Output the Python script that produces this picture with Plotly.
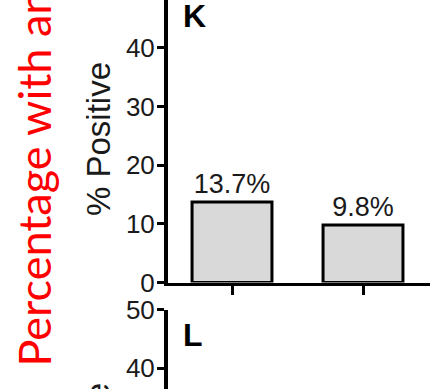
import plotly.graph_objects as go

# Panel K data
categories = [0, 1]
pct_positive = [13.7, 9.8]
bar_labels = ["13.7%", "9.8%"]

# Axis ticks
k_ticks = [0, 10, 20, 30, 40]
l_ticks = [40, 50]

W, H = 434, 389


def fx(px):
    return px / W


def fy(py):
    return 1 - py / H


AX_FONT = dict(family="Liberation Sans, Arial, sans-serif", size=26, color="#1a1a1a")

fig = go.Figure()

fig.add_trace(go.Bar(
    x=categories,
    y=pct_positive,
    width=0.61,
    text=bar_labels,
    textposition="outside",
    constraintext="none",
    cliponaxis=False,
    textfont=dict(family="Liberation Sans, Arial, sans-serif", size=27, color="#1a1a1a"),
    marker=dict(color="#d9d9d9", line=dict(color="black", width=3)),
    xaxis="x", yaxis="y",
    hoverinfo="skip",
))

# Empty trace so the lower panel's axes are drawn
fig.add_trace(go.Scatter(x=[None], y=[None], xaxis="x2", yaxis="y2", showlegend=False))

x_dom = [fx(168), fx(430)]
x_rng = [-(232 - 168) / 131, 1 + (430 - 363) / 131]

fig.update_layout(
    width=W, height=H,
    margin=dict(l=0, r=0, t=0, b=0, autoexpand=False),
    paper_bgcolor="white", plot_bgcolor="white",
    showlegend=False,
    xaxis=dict(
        domain=x_dom, range=x_rng, anchor="y",
        showline=True, linecolor="black", linewidth=3,
        ticks="outside", ticklen=9, tickwidth=3, tickcolor="black",
        tickvals=categories, showticklabels=False,
        showgrid=False, zeroline=False, fixedrange=True,
    ),
    yaxis=dict(
        domain=[fy(282.5), 1], range=[0, 282.5 / 5.87], anchor="x",
        showline=True, linecolor="black", linewidth=4,
        ticks="outside", ticklen=7, tickwidth=3, tickcolor="black",
        tickvals=k_ticks, tickfont=AX_FONT, ticklabelstandoff=-3,
        showgrid=False, zeroline=False, fixedrange=True,
    ),
    xaxis2=dict(
        domain=x_dom, range=x_rng, anchor="y2",
        showline=False, showticklabels=False, ticks="",
        showgrid=False, zeroline=False, fixedrange=True,
    ),
    yaxis2=dict(
        domain=[0, fy(309.5)], range=[50 - 79.5 / 5.87, 50], anchor="x2",
        showline=True, linecolor="black", linewidth=4,
        ticks="outside", ticklen=7, tickwidth=3, tickcolor="black",
        tickvals=l_ticks, tickfont=AX_FONT, ticklabelstandoff=-3,
        showgrid=False, zeroline=False, fixedrange=True,
    ),
)

annotations = [
    # panel letters
    dict(text="<b>K</b>", x=fx(181), y=fy(-4), xanchor="left", yanchor="top",
         font=dict(family="Liberation Sans, Arial, sans-serif", size=32, color="black")),
    dict(text="<b>L</b>", x=fx(181), y=fy(315), xanchor="left", yanchor="top",
         font=dict(family="Liberation Sans, Arial, sans-serif", size=32, color="black")),
    # y-axis titles
    dict(text="% Positive", x=fx(98), y=fy(139), xanchor="center", yanchor="middle",
         textangle=-90,
         font=dict(family="Liberation Sans, Arial, sans-serif", size=33, color="#1a1a1a")),
    dict(text="% Positive", x=fx(98), y=fy(460), xanchor="center", yanchor="middle",
         textangle=-90,
         font=dict(family="Liberation Sans, Arial, sans-serif", size=33, color="#1a1a1a")),
    # figure-level side label
    dict(text="Percentage with antibody", x=fx(33), y=fy(369), xanchor="center", yanchor="bottom",
         textangle=-90,
         font=dict(family="Lato, sans-serif", size=45, color="#ff0000")),
]
for a in annotations:
    a.update(xref="paper", yref="paper", showarrow=False)
fig.update_layout(annotations=annotations)

fig.write_html("out.html", config={"displayModeBar": False})
